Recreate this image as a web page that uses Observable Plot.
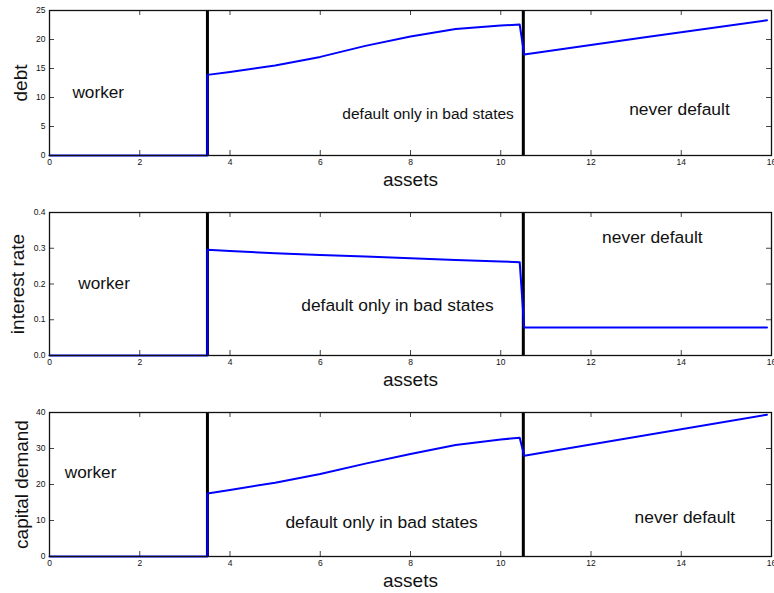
<!DOCTYPE html>
<html>
<head>
<meta charset="utf-8">
<script src="https://cdn.jsdelivr.net/npm/d3@7"></script>
<script src="https://cdn.jsdelivr.net/npm/@observablehq/plot@0.6"></script>
<style>
  html, body { margin: 0; padding: 0; background: #fff; overflow: hidden; }
  #chart svg { display: block; }
</style>
</head>
<body>
<div id="chart"></div>
<script>
// Policy functions against assets, by occupational regime
const xTicks = [0, 2, 4, 6, 8, 10, 12, 14, 16];
const thresholds = [3.5, 10.5]; // worker | default only in bad states | never default

const debtAssets  = [0, 3.5, 3.5, 4, 5, 6, 7, 8, 9, 10, 10.42, 10.52, 13.2, 15.9];
const debtValues  = [0, 0, 13.9, 14.4, 15.5, 17.0, 18.9, 20.5, 21.8, 22.4, 22.57, 17.4, 20.4, 23.3];
const debtTicks   = [0, 5, 10, 15, 20, 25];

const rateAssets  = [0, 3.5, 3.5, 4, 5, 6, 7, 8, 9, 10, 10.42, 10.52, 15.9];
const rateValues  = [0, 0, 0.296, 0.292, 0.286, 0.281, 0.277, 0.272, 0.267, 0.263, 0.261, 0.078, 0.078];
const rateTicks   = [0, 0.1, 0.2, 0.3, 0.4];

const capAssets   = [0, 3.5, 3.5, 4, 5, 6, 7, 8, 9, 10, 10.42, 10.52, 15.9];
const capValues   = [0, 0, 17.5, 18.5, 20.5, 22.9, 25.8, 28.5, 31.0, 32.5, 33.0, 28.0, 39.4];
const capTicks    = [0, 10, 20, 30, 40];

const regimeNames = ["worker", "default only in bad states", "never default"];

const panels = [
  {
    label: "debt", assets: debtAssets, values: debtValues, ticks: debtTicks, ymax: 25,
    height: 200, marginTop: 10, marginBottom: 45, labelDx: -29,
    notes: [
      {x: 1.08, y: 10.9, size: 17.2},
      {x: 8.39, y: 7.17, size: 15.5},
      {x: 13.96, y: 7.9, size: 17.4}
    ]
  },
  {
    label: "interest rate", assets: rateAssets, values: rateValues, ticks: rateTicks, ymax: 0.4,
    height: 200, marginTop: 12, marginBottom: 45, labelDx: -31.5,
    notes: [
      {x: 1.21, y: 0.201, size: 17.2},
      {x: 7.71, y: 0.140, size: 17.4},
      {x: 13.36, y: 0.329, size: 17.4}
    ]
  },
  {
    label: "capital demand", assets: capAssets, values: capValues, ticks: capTicks, ymax: 40,
    height: 193, marginTop: 12, marginBottom: 37, labelDx: -27.5,
    notes: [
      {x: 0.91, y: 23.3, size: 17.2},
      {x: 7.36, y: 9.5, size: 17.4},
      {x: 14.08, y: 10.8, size: 17.4}
    ]
  }
];

const width = 774, marginLeft = 49, marginRight = 3;
const plotW = width - marginLeft - marginRight;
const font = "'Liberation Sans', Arial, Helvetica, sans-serif";

for (const p of panels) {
  const plotH = p.height - p.marginTop - p.marginBottom;
  const series = p.assets.map((a, i) => ({asset: a, value: p.values[i]}));
  const notes = p.notes.map((n, i) => ({...n, text: regimeNames[i]}));

  const chart = Plot.plot({
    width, height: p.height,
    marginLeft, marginRight, marginTop: p.marginTop, marginBottom: p.marginBottom,
    style: {fontFamily: font, background: "#fff", color: "#111"},
    x: {domain: [0, 16]},
    y: {domain: [0, p.ymax]},
    marks: [
      // tick labels
      Plot.axisX(xTicks, {tickSize: 0, tickPadding: 3, fontSize: 8.5, fill: "#111", label: null}),
      Plot.axisY(p.ticks, {anchor: "left", tickSize: 0, tickPadding: 4, fontSize: 8.5, fill: "#111", label: null}),
      // inward ticks on all four sides
      Plot.tickX(xTicks, {x: d => d, insetTop: plotH - 5, stroke: "#444", strokeWidth: 1}),
      Plot.tickX(xTicks, {x: d => d, insetBottom: plotH - 5, stroke: "#444", strokeWidth: 1}),
      Plot.tickY(p.ticks, {y: d => d, insetRight: plotW - 5, stroke: "#444", strokeWidth: 1}),
      Plot.tickY(p.ticks, {y: d => d, insetLeft: plotW - 5, stroke: "#444", strokeWidth: 1}),
      // regime boundaries
      Plot.ruleX(thresholds, {stroke: "#000", strokeWidth: 3}),
      // policy function
      Plot.line(series, {x: "asset", y: "value", stroke: "#0000ff", strokeWidth: 2}),
      Plot.frame({stroke: "#111", strokeWidth: 1.3}),
      // regime names
      Plot.text(notes, {x: "x", y: "y", text: "text", fontSize: d => d.size, fill: "#111", lineAnchor: "middle"}),
      // axis titles
      Plot.text(["assets"], {frameAnchor: "bottom", dy: 24, fontSize: 19, fill: "#111", lineAnchor: "middle"}),
      Plot.text([p.label], {frameAnchor: "left", dx: p.labelDx, rotate: -90, fontSize: 19, fill: "#111", lineAnchor: "middle", textAnchor: "middle"})
    ]
  });
  document.getElementById("chart").appendChild(chart);
}
</script>
</body>
</html>
